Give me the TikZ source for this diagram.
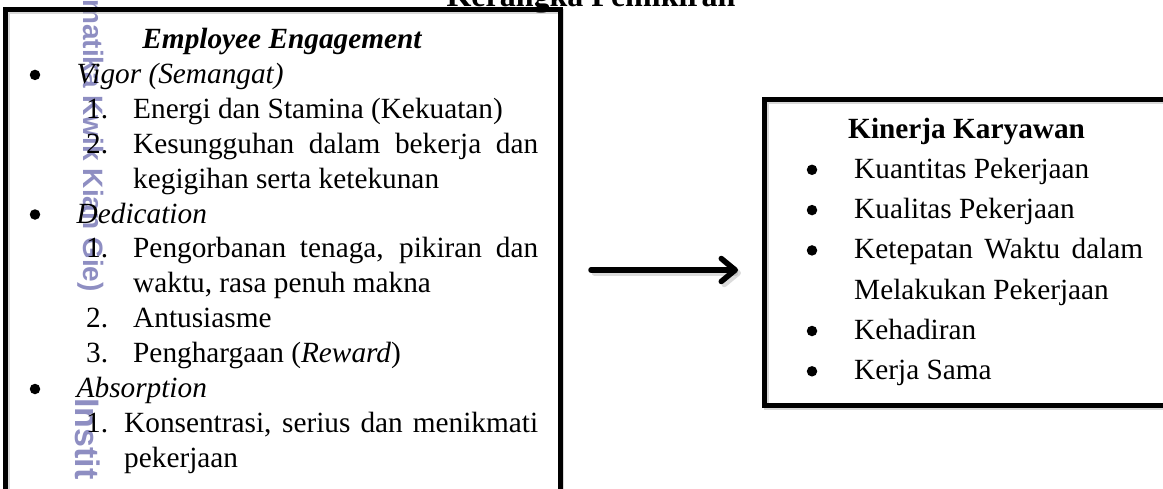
\documentclass[tikz,border=0pt]{standalone}
\usepackage{fontspec}
\setmainfont{Liberation Serif}
\newfontfamily\wmfont{Liberation Sans}
\usetikzlibrary{arrows.meta}
\definecolor{wmcol}{RGB}{142,142,194}
\newcommand\bodyfont{\fontsize{29.3}{35}\selectfont}
\newcommand\headfont{\fontsize{32}{38}\selectfont\bfseries}

\begin{document}
\begin{tikzpicture}[x=1pt,y=-1pt,
  txt/.style={anchor=base west,inner sep=0pt,font=\bodyfont},
  dot/.style={circle,fill=black,inner sep=0pt,minimum size=10.5pt},
  frame/.style={line width=5pt,line join=miter},
  frameshade/.style={line width=5pt,draw=black!30,opacity=0.5},
  flow/.style={line width=5.5pt,line cap=round,
    -{Straight Barb[length=14pt,width=23pt,round]}},
  flowshade/.style={flow,draw=black!40,opacity=0.35}]
\useasboundingbox (0,0) rectangle (1163,488);
\clip (0,0) rectangle (1163,488);

% faint vertical watermark in the left margin
\node[font=\wmfont\bfseries\fontsize{28}{28}\selectfont, text=wmcol, rotate=-90,
      anchor=base east, inner sep=0pt] (wmsmall) at (83,292) {Informatika Kwik Kian Gie)};
\node[font=\wmfont\bfseries\fontsize{34}{34}\selectfont, text=wmcol, rotate=-90,
      anchor=base west, inner sep=0pt] (wmbig) at (75,398) {Instit};

% heading
\node[anchor=base, inner sep=0pt, font=\headfont] (title) at (591,6) {Kerangka Pemikiran};

% frames
\draw[frameshade] (7,530) -- (7,11.2) -- (561.5,11.2) -- (561.5,530);
\draw[frame] (5.5,530) -- (5.5,9.7) -- (560,9.7) -- (560,530);
\draw[frameshade] (1200,101) -- (766,101) -- (766,407) -- (1200,407);
\draw[frame] (1200,99.5) -- (764.5,99.5) -- (764.5,405.5) -- (1200,405.5);
\coordinate (lbox-e) at (560,270);
\coordinate (rbox-w) at (764.5,270);

% left box: employee engagement
\node[anchor=base, inner sep=0pt, font=\bodyfont\bfseries\itshape] (ee) at (282,48.5) {Employee Engagement};

\node[dot] (b1) at (35,74.9) {};
\node[txt] (vig) at (76.5,83.4) {\textit{Vigor (Semangat)}};
\node[txt] (v1n) at (86,118.3) {1.};
\node[txt] (v1) at (133,118.3) {Energi dan Stamina (Kekuatan)};
\node[txt] (v2n) at (86,153.2) {2.};
\node[txt] (v2) at (133,153.2) {\makebox[405pt][s]{Kesungguhan dalam bekerja dan}};
\node[txt] (v2b) at (133,188.1) {kegigihan serta ketekunan};

\node[dot] (b2) at (35,214.5) {};
\node[txt] (ded) at (76.5,223) {\textit{Dedication}};
\node[txt] (d1n) at (86,257.9) {1.};
\node[txt] (d1) at (133,257.9) {\makebox[405pt][s]{Pengorbanan tenaga, pikiran dan}};
\node[txt] (d1b) at (133,292.8) {waktu, rasa penuh makna};
\node[txt] (d2n) at (86,327.7) {2.};
\node[txt] (d2) at (133,327.7) {Antusiasme};
\node[txt] (d3n) at (86,362.6) {3.};
\node[txt] (d3) at (133,362.6) {Penghargaan (\textit{Reward})};

\node[dot] (b3) at (35,389) {};
\node[txt] (abs) at (76.5,397.5) {\textit{Absorption}};
\node[txt] (a1n) at (86,432.4) {1.};
\node[txt] (a1) at (124,432.4) {\makebox[414pt][s]{Konsentrasi, serius dan menikmati}};
\node[txt] (a1b) at (124,467.3) {pekerjaan};

% right box: employee performance
\node[txt, font=\bodyfont\bfseries] (kk) at (848,138) {Kinerja Karyawan};
\node[dot] (r1) at (812,169.8) {};
\node[txt] (k1) at (854,178.3) {Kuantitas Pekerjaan};
\node[dot] (r2) at (812,210.1) {};
\node[txt] (k2) at (854,218.6) {Kualitas Pekerjaan};
\node[dot] (r3) at (812,250.4) {};
\node[txt] (k3) at (854,258.9) {\makebox[289pt][s]{Ketepatan Waktu dalam}};
\node[txt] (k3b) at (854,299.2) {Melakukan Pekerjaan};
\node[dot] (r4) at (812,331) {};
\node[txt] (k4) at (854,339.5) {Kehadiran};
\node[dot] (r5) at (812,371.3) {};
\node[txt] (k5) at (854,379.8) {Kerja Sama};

% arrow between the two frames
\draw[flowshade, shorten <=33pt, shorten >=25pt] ([shift={(1.5,3)}]lbox-e) -- ([shift={(1.5,3)}]rbox-w);
\draw[flow, shorten <=31pt, shorten >=26.5pt] (lbox-e) -- (rbox-w);
\end{tikzpicture}
\end{document}
